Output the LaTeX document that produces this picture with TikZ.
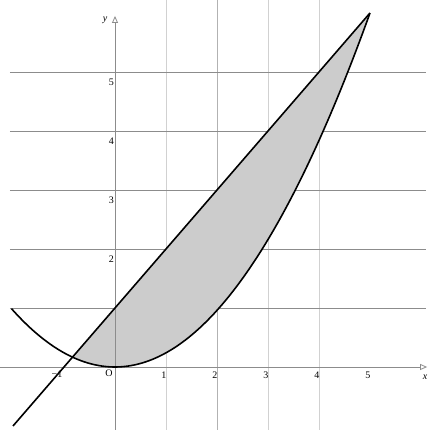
\documentclass[tikz,border=0pt]{standalone}
\usepackage{fontspec}
\setmainfont{Liberation Serif}
\usetikzlibrary{arrows.meta}
\begin{document}
\begin{tikzpicture}[x=51pt,y=59pt,
  gridh/.style={draw=black!45,line width=0.8pt},
  gridv/.style={draw=black!18,line width=0.8pt},
  axis/.style={draw=black!45,line width=0.8pt,-{Triangle[open,length=7pt,width=6pt]}},
  curve/.style={draw=black,line width=1.6pt},
  lab/.style={font=\fontsize{10}{12}\selectfont,inner sep=0pt}]
\useasboundingbox (-2.2549,-1.0678) rectangle (6.2157,6.2203);
\fill[white] (-2.2549,-1.0678) rectangle (6.2157,6.2203);
% vertical grid
\foreach \i in {1,3,4} \draw[gridv] (\i,-1.0678) -- (\i,6.2203);
\draw[draw=black!30,line width=0.8pt] (2,-1.0678) -- (2,6.2203);
% horizontal grid
\foreach \j in {1,...,5} \draw[gridh] (-2.06,\j) -- (6.1,\j);
% shaded region
\fill[black!20] plot[domain=-0.8333:5,samples=80] (\x,{0.24*\x*\x}) -- cycle;
% axes
\coordinate (xs) at (-2.2549,0);
\coordinate (xe) at (6.12,0);
\coordinate (ys) at (0,-1.0678);
\coordinate (ye) at (0,5.95);
\draw[axis] (xs) -- (xe);
\draw[axis] (ys) -- (ye);
% curves
\coordinate (la) at (-2,-1);
\coordinate (lb) at (5,6);
\draw[curve] (la) -- (lb);
\draw[curve] plot[domain=-2.03:5,samples=100] (\x,{0.24*\x*\x});
% labels
\node[lab,font=\fontsize{10}{12}\selectfont\itshape] (xl) at ([shift={(-2pt,-10pt)}]xe) {x};
\node[lab,font=\fontsize{10}{12}\selectfont\itshape] (yl) at ([shift={(-10pt,-4pt)}]ye) {y};
\node[lab] (o) at ([shift={(-6pt,-6pt)}]0,0) {O};
\node[lab] (m1) at ([shift={(-7pt,-7pt)}]-1,0) {−1};
\foreach \i in {1,...,5} \node[lab] (x\i) at ([shift={(-2pt,-8pt)}]\i,0) {\i};
\foreach \j in {2,...,5} \node[lab] (y\j) at ([shift={(-3.5pt,-10pt)}]0,\j) {\j};
\end{tikzpicture}
\end{document}
